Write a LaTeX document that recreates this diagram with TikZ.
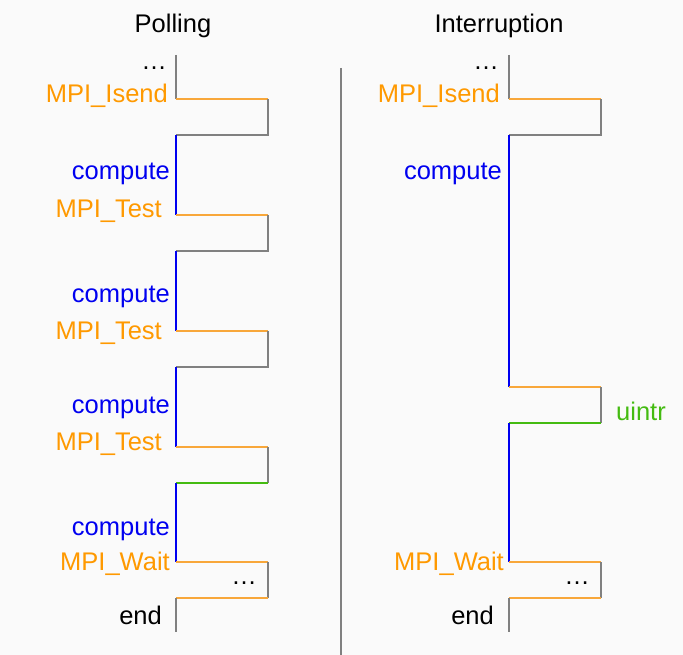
\documentclass[tikz,border=0pt]{standalone}
\usepackage{fontspec}
\setmainfont{Liberation Sans}
\begin{document}
\begin{tikzpicture}[x=1pt,y=-1pt,
  lbl/.style={inner sep=0pt,font=\fontsize{25.5}{29}\selectfont},
  grey/.style={draw=black!50,line width=1.6pt}]
\definecolor{tOrange}{HTML}{FF9900}
\definecolor{lOrange}{HTML}{F8A73A}
\definecolor{tBlue}{HTML}{0000F0}
\definecolor{tGreen}{HTML}{44BB11}
\tikzset{orng/.style={draw=lOrange,line width=1.6pt},grn/.style={draw=tGreen,line width=1.6pt},blu/.style={draw=tBlue,line width=1.6pt}}
\fill[white!98!black] (0,0) rectangle (683,655);
\useasboundingbox (0,0) rectangle (683,655);
% divider
\coordinate (d1) at (341,68); \coordinate (d2) at (341,655);
\draw[grey] (d1) -- (d2);
% left timeline
\coordinate (L0) at (176,55);
\foreach \n/\y in {a/99,b/135,c/215,d/251,e/331,f/367,g/447,h/483,i/562,j/598}{
  \coordinate (L\n) at (176,\y); \coordinate (R\n) at (268,\y);}
\coordinate (Lend) at (176,632);
\draw[grey] (L0) -- (La);
\draw[orng] (La) -- (Ra); \draw[grey] (Ra) -- (Rb) -- (Lb);
\draw[blu] (Lb) -- (Lc);
\draw[orng] (Lc) -- (Rc); \draw[grey] (Rc) -- (Rd) -- (Ld);
\draw[blu] (Ld) -- (Le);
\draw[orng] (Le) -- (Re); \draw[grey] (Re) -- (Rf) -- (Lf);
\draw[blu] (Lf) -- (Lg);
\draw[orng] (Lg) -- (Rg); \draw[grey] (Rg) -- (Rh); \draw[grn] (Rh) -- (Lh);
\draw[blu] (Lh) -- (Li);
\draw[orng] (Li) -- (Ri); \draw[grey] (Ri) -- (Rj); \draw[orng] (Rj) -- (Lj);
\draw[grey] (Lj) -- (Lend);
% right timeline
\coordinate (P0) at (509,55);
\foreach \n/\y in {a/99,b/135,c/387,d/423,e/562,f/598}{
  \coordinate (P\n) at (509,\y); \coordinate (Q\n) at (601,\y);}
\coordinate (Pend) at (509,632);
\draw[grey] (P0) -- (Pa);
\draw[orng] (Pa) -- (Qa); \draw[grey] (Qa) -- (Qb) -- (Pb);
\draw[blu] (Pb) -- (Pc);
\draw[orng] (Pc) -- (Qc); \draw[grey] (Qc) -- (Qd); \draw[grn] (Qd) -- (Pd);
\draw[blu] (Pd) -- (Pe);
\draw[orng] (Pe) -- (Qe); \draw[grey] (Qe) -- (Qf); \draw[orng] (Qf) -- (Pf);
\draw[grey] (Pf) -- (Pend);
% titles
\node[lbl,anchor=base] (t1) at (173,33) {Polling};
\node[lbl,anchor=base] (t2) at (499,33) {Interruption};
% left labels
\node[lbl,anchor=base east] (l1) at (167,70) {…};
\node[lbl,anchor=base east,text=tOrange] (l2) at (168,103) {MPI\_Isend};
\node[lbl,anchor=base east,text=tBlue] (l3) at (170,180) {compute};
\node[lbl,anchor=base east,text=tOrange] (l4) at (162,218) {MPI\_Test};
\node[lbl,anchor=base east,text=tBlue] (l5) at (170,302) {compute};
\node[lbl,anchor=base east,text=tOrange] (l6) at (162,339) {MPI\_Test};
\node[lbl,anchor=base east,text=tBlue] (l7) at (170,413) {compute};
\node[lbl,anchor=base east,text=tOrange] (l8) at (162,450) {MPI\_Test};
\node[lbl,anchor=base east,text=tBlue] (l9) at (170,535) {compute};
\node[lbl,anchor=base east,text=tOrange] (l10) at (170,570) {MPI\_Wait};
\node[lbl,anchor=base] (l11) at (244,584) {…};
\node[lbl,anchor=base east] (l12) at (162,624) {end};
% right labels
\node[lbl,anchor=base east] (r1) at (499,70) {…};
\node[lbl,anchor=base east,text=tOrange] (r2) at (500,103) {MPI\_Isend};
\node[lbl,anchor=base east,text=tBlue] (r3) at (502,180) {compute};
\node[lbl,anchor=base west,text=tGreen] (r4) at (616,420) {uintr};
\node[lbl,anchor=base east,text=tOrange] (r5) at (504,570) {MPI\_Wait};
\node[lbl,anchor=base] (r6) at (577,584) {…};
\node[lbl,anchor=base east] (r7) at (494,624) {end};
\end{tikzpicture}
\end{document}
